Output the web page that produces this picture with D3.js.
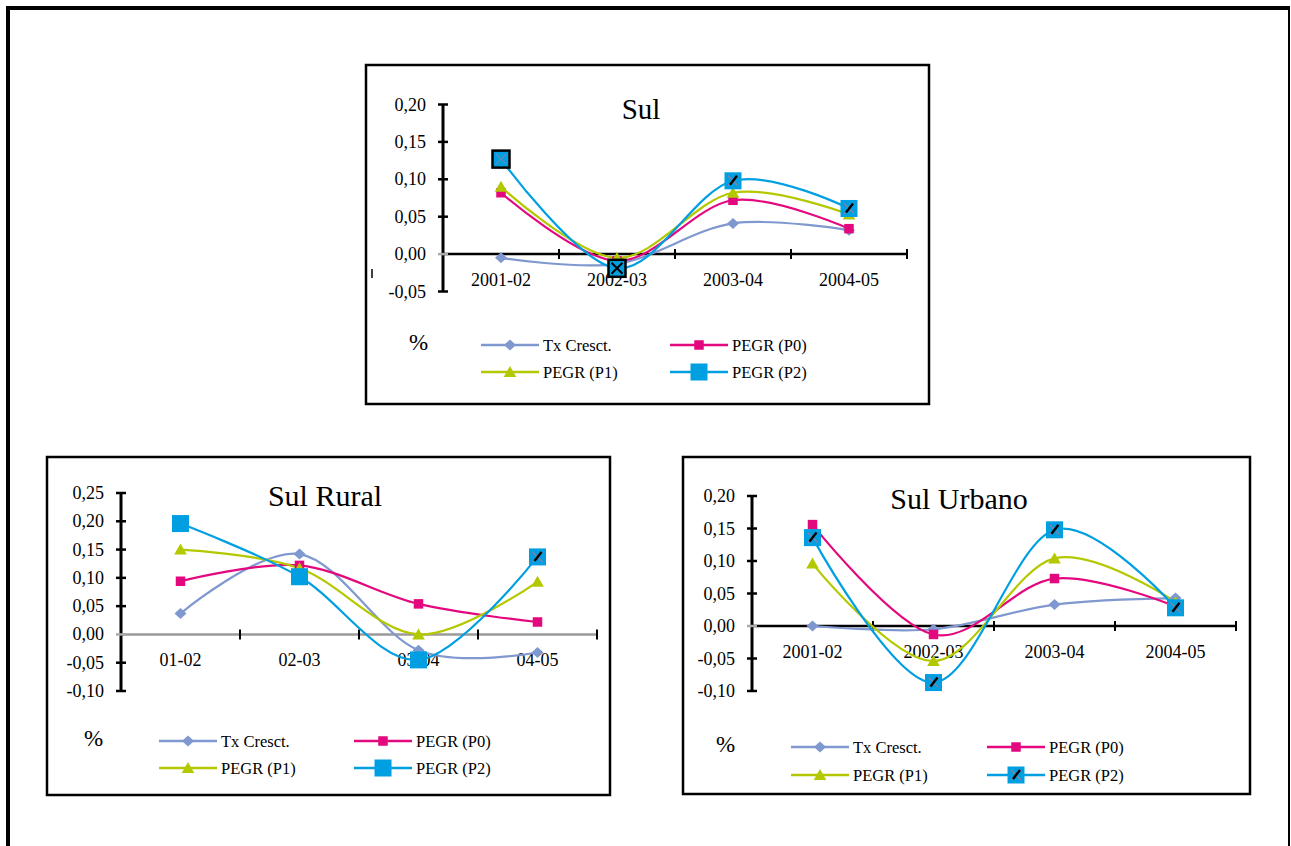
<!DOCTYPE html>
<html>
<head>
<meta charset="utf-8">
<script src="https://cdn.jsdelivr.net/npm/d3@7"></script>
<style>
  body { margin: 0; background: #fff; }
  svg text { font-family: "Liberation Serif", "Times New Roman", serif; fill: #000; }
</style>
</head>
<body>
<svg id="chart" width="1291" height="846" font-family="Liberation Serif, Times New Roman, serif"></svg>
<script>
// séries (mesma ordem nos três gráficos)
const seriesNames = ["Tx Cresct.", "PEGR (P0)", "PEGR (P1)", "PEGR (P2)"];
const seriesColors = ["#7f98cf", "#e4087e", "#b4c800", "#009fe2"];
const seriesShapes = ["diamond", "square", "triangle", "bigsquare"];

const anosLongos = ["2001-02", "2002-03", "2003-04", "2004-05"];
const anosCurtos = ["01-02", "02-03", "03-04", "04-05"];

// Sul
const sulTx = [-0.005, -0.013, 0.041, 0.032];
const sulP0 = [0.082, -0.009, 0.072, 0.034];
const sulP1 = [0.090, -0.005, 0.082, 0.053];
const sulP2 = [0.127, -0.019, 0.098, 0.061];
const sulTicks = [-0.05, 0, 0.05, 0.10, 0.15, 0.20];

// Sul Rural
const ruralTx = [0.037, 0.142, -0.028, -0.032];
const ruralP0 = [0.094, 0.122, 0.054, 0.022];
const ruralP1 = [0.150, 0.117, 0.000, 0.093];
const ruralP2 = [0.196, 0.102, -0.045, 0.137];
const ruralTicks = [-0.10, -0.05, 0, 0.05, 0.10, 0.15, 0.20, 0.25];

// Sul Urbano
const urbanoTx = [0.000, -0.005, 0.033, 0.043];
const urbanoP0 = [0.156, -0.013, 0.073, 0.030];
const urbanoP1 = [0.096, -0.054, 0.104, 0.037];
const urbanoP2 = [0.136, -0.087, 0.148, 0.028];
const urbanoTicks = [-0.10, -0.05, 0, 0.05, 0.10, 0.15, 0.20];

// marcas por cima dos quadrados P2 ("box" contorno, "boxx" contorno + cruz, "x" cruz + traço)
const sulP2Marca = ["box", "boxx", "x", "x"];
const ruralP2Marca = ["", "", "", "x"];
const urbanoP2Marca = ["x", "x", "x", "x"];

const fmt = v => d3.format(".2f")(v).replace(".", ",").replace("−", "-");

const paineis = [
  { titulo: "Sul", tituloSize: 29, tituloPos: [641, 119], box: [366, 65, 929, 404],
    eixoX: [443, 907], eixoY: [291.5, 104.5], cats: anosLongos,
    series: [sulTx, sulP0, sulP1, sulP2], ticks: sulTicks, marcas: sulP2Marca,
    zeroCor: "#000", leg: { pct: [409, 350], col: [481, 670], linhas: [345, 372], p2: "" } },
  { titulo: "Sul Rural", tituloSize: 30, tituloPos: [325, 506], box: [47, 457, 610, 795],
    eixoX: [121, 597], eixoY: [691, 493], cats: anosCurtos,
    series: [ruralTx, ruralP0, ruralP1, ruralP2], ticks: ruralTicks, marcas: ruralP2Marca,
    zeroCor: "#9a9a9a", leg: { pct: [84, 746], col: [159, 354], linhas: [741, 768], p2: "" } },
  { titulo: "Sul Urbano", tituloSize: 30, tituloPos: [959, 509], box: [683, 457, 1250, 794],
    eixoX: [752, 1236], eixoY: [691, 496], cats: anosLongos,
    series: [urbanoTx, urbanoP0, urbanoP1, urbanoP2], ticks: urbanoTicks, marcas: urbanoP2Marca,
    zeroCor: "#000", leg: { pct: [716, 752], col: [791, 987], linhas: [747, 775], p2: "x" } }
];

const svg = d3.select("#chart");

// moldura exterior (página)
svg.append("line").attr("x1", 8).attr("x2", 8).attr("y1", 6).attr("y2", 846).attr("stroke", "#000").attr("stroke-width", 4);
svg.append("line").attr("x1", 6).attr("x2", 1290).attr("y1", 8).attr("y2", 8).attr("stroke", "#000").attr("stroke-width", 4);
svg.append("line").attr("x1", 1289).attr("x2", 1289).attr("y1", 8).attr("y2", 846).attr("stroke", "#000").attr("stroke-width", 2);

function desenhaMarca(g, forma, cor, marca) {
  if (forma === "diamond") {
    g.append("path").attr("d", "M0,-5.5L6,0L0,5.5L-6,0Z").attr("fill", cor);
  } else if (forma === "square") {
    g.append("rect").attr("x", -4.75).attr("y", -4.75).attr("width", 9.5).attr("height", 9.5).attr("fill", cor);
  } else if (forma === "triangle") {
    g.append("path").attr("d", "M0,-6L6.3,5L-6.3,5Z").attr("fill", cor);
  } else {
    const r = g.append("rect").attr("x", -8.5).attr("y", -8.5).attr("width", 17).attr("height", 17).attr("fill", cor);
    if (marca === "box" || marca === "boxx") r.attr("stroke", "#000").attr("stroke-width", 2.5);
    if (marca === "boxx") {
      g.append("path").attr("d", "M-5.5,-5.5L5.5,5.5M-5.5,5.5L5.5,-5.5").attr("stroke", "#000").attr("stroke-width", 2);
    } else if (marca === "box") {
      g.append("path").attr("d", "M-5,-5L5,5M-5,5L5,-5").attr("stroke", "#7d86a8").attr("stroke-width", 1.2).attr("opacity", 0.8);
    } else if (marca === "x") {
      g.append("path").attr("d", "M-5,-5L5,5M-5,5L5,-5").attr("stroke", "#8a7fa0").attr("stroke-width", 1.4);
      g.append("path").attr("d", "M-3,4L4,-5").attr("stroke", "#000").attr("stroke-width", 2.4);
    }
  }
}

paineis.forEach(p => {
  const [bx0, by0, bx1, by1] = p.box;
  svg.append("rect").attr("x", bx0).attr("y", by0).attr("width", bx1 - bx0).attr("height", by1 - by0)
    .attr("fill", "#fff").attr("stroke", "#000").attr("stroke-width", 2.5);

  const x = d3.scaleBand().domain(p.cats).range(p.eixoX);
  const cx = c => x(c) + x.bandwidth() / 2;
  const y = d3.scaleLinear().domain([p.ticks[0], p.ticks[p.ticks.length - 1]]).range(p.eixoY);
  const y0 = y(0);
  const ax = p.eixoX[0];

  const g = svg.append("g");

  // título
  g.append("text").attr("x", p.tituloPos[0]).attr("y", p.tituloPos[1]).attr("text-anchor", "middle")
    .style("font-size", p.tituloSize + "px").text(p.titulo);

  // eixo x (linha do zero) e marcas
  g.append("line").attr("x1", ax).attr("x2", p.eixoX[1]).attr("y1", y0).attr("y2", y0)
    .attr("stroke", p.zeroCor).attr("stroke-width", 2.5);
  g.selectAll(".xt").data(p.cats).join("line")
    .attr("x1", c => x(c) + x.bandwidth()).attr("x2", c => x(c) + x.bandwidth())
    .attr("y1", y0 - 5).attr("y2", y0 + 5).attr("stroke", "#000").attr("stroke-width", 2);
  g.selectAll(".xl").data(p.cats).join("text")
    .attr("x", cx).attr("y", y0 + 32).attr("text-anchor", "middle")
    .style("font-size", "18px").text(c => c);

  // eixo y
  g.append("line").attr("x1", ax).attr("x2", ax).attr("y1", y(p.ticks[p.ticks.length - 1]))
    .attr("y2", y(p.ticks[0])).attr("stroke", "#000").attr("stroke-width", 3);
  g.selectAll(".yt").data(p.ticks).join("line")
    .attr("x1", ax - 5).attr("x2", ax + 5).attr("y1", d => y(d)).attr("y2", d => y(d))
    .attr("stroke", d => d === 0 ? "#aaa" : "#000").attr("stroke-width", 2.5);
  g.selectAll(".yl").data(p.ticks).join("text")
    .attr("x", ax - 17).attr("y", d => y(d) + 6).attr("text-anchor", "end")
    .style("font-size", "18px").text(fmt);

  // linhas suavizadas (estilo Excel)
  const linha = d3.line().x((d, i) => cx(p.cats[i])).y(d => y(d)).curve(d3.curveCatmullRom.alpha(0));
  p.series.forEach((vals, si) => {
    g.append("path").attr("d", linha(vals)).attr("fill", "none")
      .attr("stroke", seriesColors[si]).attr("stroke-width", 2.2);
  });
  p.series.forEach((vals, si) => {
    vals.forEach((v, i) => {
      const m = g.append("g").attr("transform", `translate(${cx(p.cats[i])},${y(v)})`);
      desenhaMarca(m, seriesShapes[si], seriesColors[si], si === 3 ? p.marcas[i] : "");
    });
  });

  // legenda
  const L = p.leg;
  g.append("text").attr("x", L.pct[0]).attr("y", L.pct[1]).style("font-size", "23px").text("%");
  seriesNames.forEach((nome, si) => {
    const lx = L.col[si % 2];
    const ly = L.linhas[Math.floor(si / 2)];
    g.append("line").attr("x1", lx).attr("x2", lx + 58).attr("y1", ly).attr("y2", ly)
      .attr("stroke", seriesColors[si]).attr("stroke-width", 2.4);
    const m = g.append("g").attr("transform", `translate(${lx + 29},${ly})`);
    desenhaMarca(m, seriesShapes[si], seriesColors[si], si === 3 ? L.p2 : "");
    g.append("text").attr("x", lx + 62).attr("y", ly + 6).style("font-size", "16.5px").text(nome);
  });
});

// pequeno traço solto no gráfico Sul
svg.append("line").attr("x1", 372).attr("x2", 372).attr("y1", 269).attr("y2", 278)
  .attr("stroke", "#000").attr("stroke-width", 1.5);
</script>
</body>
</html>
